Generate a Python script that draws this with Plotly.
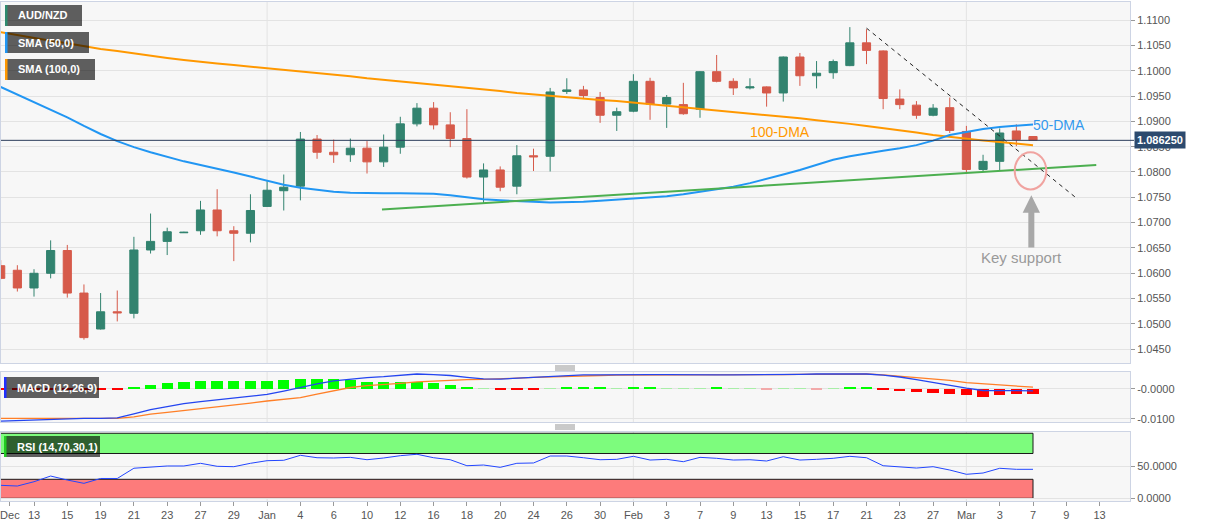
import plotly.graph_objects as go
from plotly.subplots import make_subplots

# ---------------- data ----------------
day_index = list(range(-2, 61))  # trading-day index, 0 = Dec 13

opens = [1.0615, 1.0606, 1.0571, 1.0600, 1.0645, 1.0561, 1.0490, 1.0524, 1.0521, 1.0646,
         1.0663, 1.0680, 1.0684, 1.0725, 1.0684, 1.0679, 1.0732, 1.0763, 1.0772, 1.0865,
         1.0839, 1.0834, 1.0847, 1.0820, 1.0849, 1.0895, 1.0926, 1.0893, 1.0866, 1.0790,
         1.0804, 1.0772, 1.0832, 1.0831, 1.0959, 1.0962, 1.0947, 1.0912, 1.0920, 1.0979,
         1.0934, 1.0933, 1.0924, 1.0998, 1.0979, 1.0966, 1.0968, 1.0956, 1.1027, 1.0990,
         1.0996, 1.1010, 1.1055, 1.1039, 1.0944, 1.0932, 1.0912, 1.0927, 1.0880, 1.0805,
         1.0821, 1.0881, 1.0870]
highs = [1.0626, 1.0616, 1.0608, 1.0665, 1.0656, 1.0578, 1.0561, 1.0566, 1.0672, 1.0718,
         1.0690, 1.0682, 1.0743, 1.0766, 1.0693, 1.0756, 1.0782, 1.0795, 1.0879, 1.0873,
         1.0864, 1.0866, 1.0861, 1.0874, 1.0909, 1.0936, 1.0938, 1.0918, 1.0924, 1.0817,
         1.0811, 1.0853, 1.0846, 1.0966, 1.0985, 1.0970, 1.0958, 1.0927, 1.0993, 1.0986,
         1.0952, 1.0976, 1.0999, 1.1031, 1.0985, 1.0985, 1.0969, 1.1028, 1.1035, 1.1019,
         1.1022, 1.1086, 1.1082, 1.1040, 1.0963, 1.0940, 1.0934, 1.0947, 1.0891, 1.0834,
         1.0886, 1.0894, 1.0870]
lows = [1.0588, 1.0564, 1.0554, 1.0590, 1.0552, 1.0469, 1.0489, 1.0505, 1.0511, 1.0639,
        1.0636, 1.0680, 1.0676, 1.0673, 1.0624, 1.0661, 1.0731, 1.0724, 1.0744, 1.0826,
        1.0818, 1.0820, 1.0797, 1.0810, 1.0836, 1.0890, 1.0884, 1.0849, 1.0787, 1.0737,
        1.0762, 1.0756, 1.0802, 1.0801, 1.0954, 1.0944, 1.0897, 1.0881, 1.0918, 1.0903,
        1.0887, 1.0913, 1.0907, 1.0977, 1.0952, 1.0963, 1.0929, 1.0939, 1.0970, 1.0965,
        1.0984, 1.1009, 1.1013, 1.0924, 1.0924, 1.0905, 1.0910, 1.0877, 1.0797, 1.0801,
        1.0802, 1.0851, 1.0862]
closes = [1.0590, 1.0571, 1.0600, 1.0645, 1.0561, 1.0473, 1.0524, 1.0522, 1.0646, 1.0663,
          1.0682, 1.0681, 1.0725, 1.0684, 1.0679, 1.0724, 1.0764, 1.0770, 1.0865, 1.0839,
          1.0834, 1.0847, 1.0820, 1.0849, 1.0895, 1.0926, 1.0893, 1.0866, 1.0790, 1.0804,
          1.0770, 1.0832, 1.0830, 1.0958, 1.0962, 1.0951, 1.0912, 1.0919, 1.0979, 1.0934,
          1.0947, 1.0915, 1.0998, 1.0979, 1.0966, 1.0968, 1.0956, 1.1027, 1.0990, 1.0995,
          1.1018, 1.1055, 1.1040, 1.0945, 1.0933, 1.0912, 1.0926, 1.0882, 1.0805, 1.0821,
          1.0877, 1.0864, 1.08625]

sma50 = [1.0968, 1.0953, 1.0939, 1.0923, 1.0908, 1.0891, 1.0875, 1.0861, 1.0849, 1.0839,
         1.0830, 1.0821, 1.0814, 1.0807, 1.0799, 1.0791, 1.0783, 1.0775, 1.0769, 1.0765,
         1.0761, 1.0759, 1.0758, 1.0758, 1.0758, 1.0758, 1.0757, 1.0754, 1.0750, 1.0746,
         1.0744, 1.0742, 1.0741, 1.0740, 1.0740, 1.0741, 1.0743, 1.0745, 1.0747, 1.0749,
         1.0752, 1.0756, 1.0761, 1.0766, 1.0771, 1.0778, 1.0786, 1.0795, 1.0804, 1.0814,
         1.0824, 1.0831, 1.0837, 1.0842, 1.0847, 1.0853, 1.0862, 1.0873, 1.0879, 1.0885,
         1.0889, 1.0892, 1.0894]
sma100 = [1.1076, 1.1070, 1.1065, 1.1059, 1.1054, 1.1048, 1.1043, 1.1039, 1.1034, 1.1030,
          1.1025, 1.1021, 1.1017, 1.1014, 1.1011, 1.1008, 1.1005, 1.1002, 1.0999, 1.0996,
          1.0992, 1.0989, 1.0985, 1.0982, 1.0978, 1.0975, 1.0972, 1.0969, 1.0966, 1.0963,
          1.0960, 1.0956, 1.0953, 1.0951, 1.0948, 1.0945, 1.0942, 1.0940, 1.0937, 1.0934,
          1.0931, 1.0928, 1.0925, 1.0921, 1.0918, 1.0915, 1.0912, 1.0909, 1.0906, 1.0902,
          1.0899, 1.0895, 1.0891, 1.0887, 1.0883, 1.0878, 1.0873, 1.0869, 1.0866, 1.0862,
          1.0859, 1.0856, 1.0853]

macd_line = [-0.0108, -0.0106, -0.0103, -0.0101, -0.0100, -0.0099, -0.0099, -0.0097, -0.0084, -0.0070,
             -0.0060, -0.0050, -0.0043, -0.0037, -0.0031, -0.0025, -0.0019, -0.0008, 0.0005, 0.0016,
             0.0026, 0.0032, 0.0037, 0.0040, 0.0045, 0.0049, 0.0047, 0.0044, 0.0038, 0.0033,
             0.0032, 0.0035, 0.0038, 0.0041, 0.0045, 0.0046, 0.0046, 0.0047, 0.0048, 0.0047,
             0.0047, 0.0046, 0.0046, 0.0046, 0.0046, 0.0046, 0.0047, 0.0048, 0.0048, 0.0049,
             0.0049, 0.0049, 0.0049, 0.0045, 0.0039, 0.0030, 0.0020, 0.0010, 0.0002, -0.0006,
             -0.0007, -0.0007, -0.0007]
macd_signal = [-0.0099, -0.0099, -0.0099, -0.0099, -0.0099, -0.0099, -0.0099, -0.0099, -0.0094, -0.0085,
               -0.0079, -0.0073, -0.0067, -0.0062, -0.0055, -0.0048, -0.0041, -0.0035, -0.0030, -0.0018,
               -0.0008, 0.0004, 0.0010, 0.0013, 0.0018, 0.0023, 0.0026, 0.0029, 0.0030, 0.0031,
               0.0032, 0.0035, 0.0038, 0.0040, 0.0042, 0.0043, 0.0044, 0.0045, 0.0045, 0.0045,
               0.0045, 0.0045, 0.0046, 0.0046, 0.0046, 0.0046, 0.0047, 0.0047, 0.0048, 0.0048,
               0.0049, 0.0049, 0.0049, 0.0046, 0.0042, 0.0038, 0.0033, 0.0028, 0.0020, 0.0016,
               0.0012, 0.0008, 0.0005]
macd_hist = [-0.0004, -0.0003, -0.0003, -0.0003, -0.0003, -0.0003, -0.0003, -0.0003, 0.0007, 0.0012,
             0.0020, 0.0024, 0.0027, 0.0027, 0.0025, 0.0027, 0.0027, 0.0028, 0.0034, 0.0034,
             0.0032, 0.0030, 0.0024, 0.0021, 0.0022, 0.0022, 0.0019, 0.0014, 0.0005, 0.0001,
             -0.0003, -0.0003, -0.0003, 0.0002, 0.0005, 0.0006, 0.0005, 0.0001, 0.0007, 0.0004,
             0.0002, 0.0002, 0.0002, 0.0004, 0.0002, 0.0001, -0.0002, 0.0002, 0.0002, -0.0002,
             0.0002, 0.0004, 0.0004, -0.0004, -0.0008, -0.0011, -0.0013, -0.0016, -0.0022, -0.0026,
             -0.0021, -0.0019, -0.0016]

rsi = [20.3, 19.2, 25.9, 34.8, 28.6, 23.4, 31.0, 31.0, 47.0, 48.4,
       50.5, 50.5, 54.7, 50.0, 49.4, 54.7, 58.8, 59.4, 67.2, 63.4,
       63.0, 64.0, 60.3, 63.0, 66.6, 68.8, 63.4, 60.3, 50.9, 52.0,
       48.4, 54.7, 55.2, 66.1, 66.1, 63.4, 60.3, 60.9, 65.6, 59.8,
       60.9, 57.2, 64.0, 62.5, 59.8, 60.3, 58.3, 65.0, 59.8, 60.9,
       62.5, 65.6, 63.4, 50.9, 49.4, 47.3, 49.4, 44.2, 37.5, 39.5,
       46.9, 45.3, 45.3]

tick_index = [-1.45, 0, 2, 4, 6, 8, 10, 12, 14, 16, 18, 20, 22, 24, 26, 28, 30, 32, 34,
              36, 38, 40, 42, 44, 46, 48, 50, 52, 54, 56, 58, 60, 62, 64]
tick_labels = ["Dec", "13", "15", "19", "21", "23", "27", "29", "Jan", "4", "6", "10", "12",
               "16", "18", "20", "24", "26", "30", "Feb", "3", "7", "9", "13", "15", "17",
               "21", "23", "27", "Mar", "3", "7", "9", "13"]
month_starts = [14, 36, 56]

price_ticks = [1.045, 1.050, 1.055, 1.060, 1.065, 1.070, 1.075, 1.080,
               1.085, 1.090, 1.095, 1.100, 1.105, 1.110]
last_price = 1.08625

support_x = [20.9, 63.8]
support_y = [1.0726, 1.0814]
resist_x = [50.0, 62.7]
resist_y = [1.1084, 1.0746]
circle_x = [58.9, 60.8]
circle_y = [1.07655, 1.08392]
arrow_x = 59.9
arrow_tip, arrow_base, arrow_bottom = 1.07543, 1.07193, 1.06510

# ---------------- figure ----------------
W, H = 1207, 526
ML, MR, MT, MB = 1, 77, 2, 25
PW, PH = W - ML - MR, H - MT - MB


def pxx(x):
    return (x - ML) / PW


def pyy(y):
    return (H - MB - y) / PH


FONT = "Arial, Liberation Sans, sans-serif"
GREEN = "#32836f"
RED = "#d65a4a"
BORDER = "#cdd4e4"
GRID = "#e3e3e3"
BG = "#f7f7f7"

fig = make_subplots(rows=3, cols=1, shared_xaxes=True)

fig.add_trace(go.Candlestick(
    x=day_index, open=opens, high=highs, low=lows, close=closes,
    increasing=dict(line=dict(color=GREEN, width=1), fillcolor=GREEN),
    decreasing=dict(line=dict(color=RED, width=1), fillcolor=RED),
    whiskerwidth=0, showlegend=False), row=1, col=1)

fig.add_trace(go.Scatter(x=day_index, y=sma100, mode="lines",
                         line=dict(color="#ff9800", width=2), showlegend=False), row=1, col=1)
fig.add_trace(go.Scatter(x=day_index, y=sma50, mode="lines",
                         line=dict(color="#2196f3", width=2), showlegend=False), row=1, col=1)
fig.add_trace(go.Scatter(x=support_x, y=support_y, mode="lines",
                         line=dict(color="#4caf50", width=2), showlegend=False), row=1, col=1)
fig.add_trace(go.Scatter(x=resist_x, y=resist_y, mode="lines",
                         line=dict(color="#222222", width=1, dash="4px,4px"), showlegend=False), row=1, col=1)


def hist_color(v):
    if v >= 0:
        return "#00ff00" if v >= 0.0003 else "#a8eea8"
    return "#ff0000" if v <= -0.0003 else "#f2aaaa"


fig.add_trace(go.Bar(x=day_index, y=macd_hist, marker=dict(color=[hist_color(v) for v in macd_hist], line=dict(width=0)),
                     width=0.68, showlegend=False), row=2, col=1)
fig.add_trace(go.Scatter(x=day_index, y=macd_signal, mode="lines",
                         line=dict(color="#ff7f27", width=1.3), showlegend=False), row=2, col=1)
fig.add_trace(go.Scatter(x=day_index, y=macd_line, mode="lines",
                         line=dict(color="#2445f0", width=1.3), showlegend=False), row=2, col=1)

fig.add_trace(go.Scatter(x=day_index, y=rsi, mode="lines",
                         line=dict(color="#2246ff", width=1), showlegend=False), row=3, col=1)

xr = [(ML - 34) / 16.65 + 0.0, (ML + PW - 34) / 16.65]

axis_common = dict(showline=True, mirror=True, linecolor=BORDER, linewidth=1,
                   zeroline=False, range=xr, showgrid=False)
fig.update_layout(
    width=W, height=H, margin=dict(l=ML, r=MR, t=MT, b=MB),
    paper_bgcolor="white", plot_bgcolor=BG, showlegend=False,
    font=dict(family=FONT, size=11, color="#555555"),
    bargap=0,
    xaxis=dict(domain=[0, 1], showticklabels=False, ticks="", rangeslider=dict(visible=False), **axis_common),
    xaxis2=dict(domain=[0, 1], showticklabels=False, ticks="", **axis_common),
    xaxis3=dict(domain=[0, 1], tickvals=tick_index, ticktext=tick_labels, ticks="outside",
                ticklen=4, tickcolor="#999999", tickfont=dict(size=11, color="#555555"), **axis_common),
    yaxis=dict(domain=[pyy(363), pyy(2)], side="right", range=[1.04229, 1.11356],
               tickvals=price_ticks, tickformat=".4f", ticks="outside", ticklen=4,
               tickcolor="#999999", showgrid=True, gridcolor=GRID, showline=True, mirror=True,
               linecolor=BORDER, zeroline=False),
    yaxis2=dict(domain=[pyy(422), pyy(372)], side="right", range=[-0.0111, 0.00557],
                tickvals=[0, -0.01], ticktext=["-0.0000", "-0.0100"], ticks="outside", ticklen=4,
                tickcolor="#999999", showgrid=True, gridcolor=GRID, showline=True, mirror=True,
                linecolor=BORDER, zeroline=False),
    yaxis3=dict(domain=[0, pyy(432)], side="right", range=[-4.2, 103.6],
                tickvals=[0, 50], ticktext=["0.0000", "50.0000"], ticks="outside", ticklen=4,
                tickcolor="#999999", showgrid=True, gridcolor=GRID, showline=True, mirror=True,
                linecolor=BORDER, zeroline=False),
)

shapes = []
# month gridlines
for xa, ya in (("x", "y"), ("x2", "y2"), ("x3", "y3")):
    for m in month_starts:
        shapes.append(dict(type="line", xref=xa, yref=ya + " domain", x0=m, x1=m, y0=0, y1=1,
                           line=dict(color=GRID, width=1), layer="below"))
# RSI bands
shapes.append(dict(type="rect", xref="x3", yref="y3", x0=-5, x1=60, y0=70, y1=101.6,
                   fillcolor="#7dfc7d", line=dict(color="#1a1a1a", width=1), layer="below"))
shapes.append(dict(type="rect", xref="x3", yref="y3", x0=-5, x1=60, y0=0, y1=29.7,
                   fillcolor="#fd7b7b", line=dict(color="#1a1a1a", width=1), layer="below"))
# last price line
shapes.append(dict(type="line", xref="paper", yref="y", x0=0, x1=pxx(1134), y0=last_price, y1=last_price,
                   line=dict(color="#2b3d5b", width=1)))
# circle
shapes.append(dict(type="circle", xref="x", yref="y", x0=circle_x[0], x1=circle_x[1],
                   y0=circle_y[0], y1=circle_y[1], line=dict(color="#f0a3a0", width=2)))
# arrow
hw, sw = 0.52, 0.18
path = (f"M {arrow_x - sw},{arrow_bottom} L {arrow_x - sw},{arrow_base} L {arrow_x - hw},{arrow_base} "
        f"L {arrow_x},{arrow_tip} L {arrow_x + hw},{arrow_base} L {arrow_x + sw},{arrow_base} "
        f"L {arrow_x + sw},{arrow_bottom} Z")
shapes.append(dict(type="path", xref="x", yref="y", path=path, fillcolor="#a8a8a8", line=dict(width=0)))

# legend boxes
boxes = [("AUD/NZD", 5, 82, 5, 26, "#2e8b6f"),
         ("SMA (50,0)", 5, 89, 32, 53, "#2196f3"),
         ("SMA (100,0)", 5, 95, 59, 80, "#ff9800"),
         ("MACD (12,26,9)", 4, 99, 377, 398, "#2030ff"),
         ("RSI (14,70,30,1)", 4, 100, 436, 457, "#22cc22")]
annotations = []
for txt, x0, x1, y0, y1, col in boxes:
    shapes.append(dict(type="rect", xref="paper", yref="paper", x0=pxx(x0), x1=pxx(x1),
                       y0=pyy(y1), y1=pyy(y0), fillcolor="rgba(0,0,0,0.62)", line=dict(width=0)))
    shapes.append(dict(type="rect", xref="paper", yref="paper", x0=pxx(x0), x1=pxx(x0 + 2.5),
                       y0=pyy(y1), y1=pyy(y0), fillcolor=col, line=dict(width=0)))
    annotations.append(dict(xref="paper", yref="paper", x=pxx(x0 + 11), y=pyy((y0 + y1) / 2),
                            xanchor="left", yanchor="middle", showarrow=False, text=f"<b>{txt}</b>",
                            font=dict(family=FONT, size=11, color="white")))

# panel separators
for yc in (368, 427):
    for dy in (-2, 0, 2):
        shapes.append(dict(type="line", xref="paper", yref="paper", x0=pxx(555), x1=pxx(575),
                           y0=pyy(yc + dy), y1=pyy(yc + dy), line=dict(color="#7a7a7a", width=0.8)))

annotations.append(dict(xref="x", yref="y", x=arrow_x - 0.6, y=1.06312, text="Key support",
                        showarrow=False, font=dict(family=FONT, size=15, color="#9a9a9a"),
                        xanchor="center", yanchor="middle"))
annotations.append(dict(xref="x", yref="y", x=59.9, y=1.0892, text="50-DMA", showarrow=False,
                        font=dict(family=FONT, size=14, color="#3399ee"), xanchor="left", yanchor="middle"))
annotations.append(dict(xref="x", yref="y", x=42.9, y=1.0878, text="100-DMA", showarrow=False,
                        font=dict(family=FONT, size=14, color="#ff9800"), xanchor="left", yanchor="middle"))
annotations.append(dict(xref="paper", yref="y", x=pxx(1134), y=last_price, text="<b>1.086250</b>",
                        showarrow=False, xanchor="left", yanchor="middle", bgcolor="#2c4a6e",
                        borderpad=2, font=dict(family=FONT, size=11, color="white")))

fig.update_layout(shapes=shapes, annotations=annotations)
fig.update_xaxes(rangeslider_visible=False)

fig.write_html("out.html", config={"displayModeBar": False},
               post_script="document.body.style.margin='0';document.body.style.overflow='hidden';")
